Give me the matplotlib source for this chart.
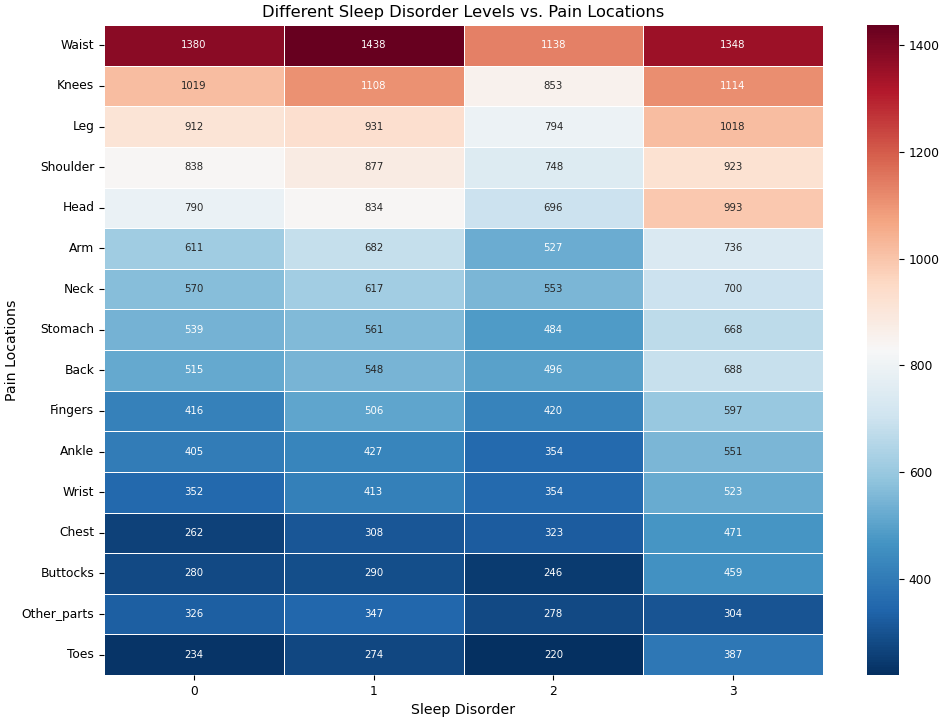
import numpy as np
import pandas as pd
import matplotlib
matplotlib.use("Agg")
import matplotlib.pyplot as plt
import seaborn as sns

locations = ["Waist", "Knees", "Leg", "Shoulder", "Head", "Arm", "Neck", "Stomach",
             "Back", "Fingers", "Ankle", "Wrist", "Chest", "Buttocks", "Other_parts", "Toes"]
sleep_levels = [0, 1, 2, 3]
level0 = [1380, 1019, 912, 838, 790, 611, 570, 539, 515, 416, 405, 352, 262, 280, 326, 234]
level1 = [1438, 1108, 931, 877, 834, 682, 617, 561, 548, 506, 427, 413, 308, 290, 347, 274]
level2 = [1138, 853, 794, 748, 696, 527, 553, 484, 496, 420, 354, 354, 323, 246, 278, 220]
level3 = [1348, 1114, 1018, 923, 993, 736, 700, 668, 688, 597, 551, 523, 471, 459, 304, 387]

df = pd.DataFrame({sleep_levels[0]: level0, sleep_levels[1]: level1,
                   sleep_levels[2]: level2, sleep_levels[3]: level3}, index=locations)

fig = plt.figure(figsize=(9.45, 7.19), dpi=100)
ax = fig.add_axes([104/945, 1 - 675/719, 719/945, 650/719])
cax = fig.add_axes([867/945, 1 - 675/719, 32/945, 650/719])

sns.heatmap(df, annot=True, fmt="d", cmap="RdBu_r", linewidths=0.6, linecolor="white",
            ax=ax, cbar_ax=cax, annot_kws={"fontsize": 7.3})
ax.set_title("Different Sleep Disorder Levels vs. Pain Locations", fontsize=11.7, pad=6)
ax.set_xlabel("Sleep Disorder", fontsize=10.2)
ax.set_ylabel("Pain Locations", fontsize=10.2, labelpad=2)
ax.tick_params(axis="both", labelsize=8.8)
ax.set_yticklabels(locations, rotation=0)
cax.tick_params(labelsize=8.8)
cax.set_frame_on(False)

fig.savefig("out.png", dpi=100)
